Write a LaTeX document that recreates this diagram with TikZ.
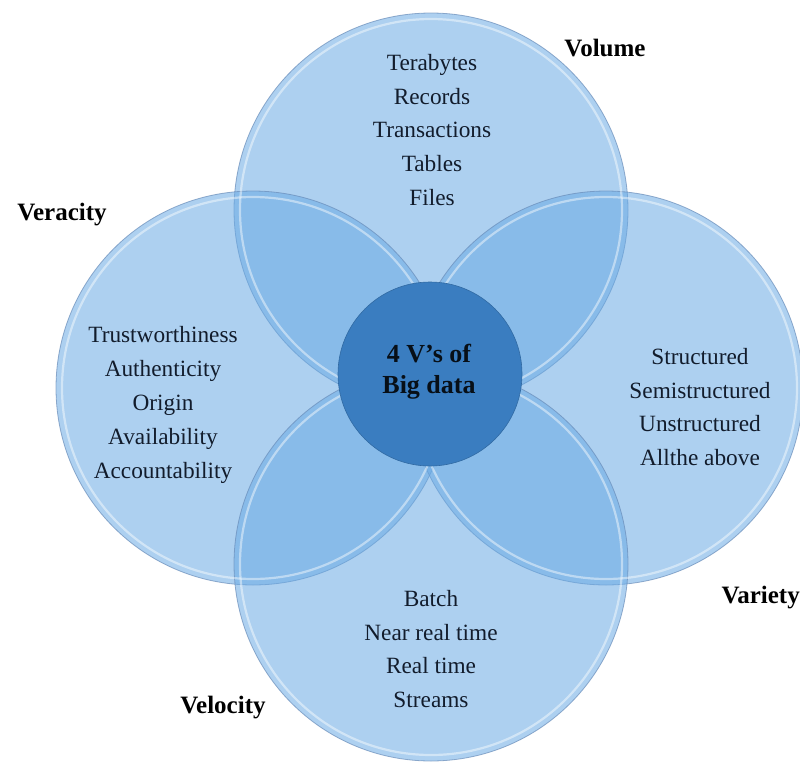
\documentclass[tikz,border=0pt]{standalone}
\usepackage{fontspec}
\setmainfont{Liberation Serif}
\definecolor{cfill}{RGB}{106,170,228}
\definecolor{cedge}{RGB}{105,140,185}
\definecolor{ccenter}{RGB}{58,125,192}
\definecolor{ctext}{RGB}{18,28,44}
\tikzset{
  vcircle/.style={circle, minimum size=394pt, inner sep=0pt, fill=cfill, fill opacity=0.55, draw=cedge, draw opacity=0.7, line width=0.8pt},
  vring/.style={circle, minimum size=382pt, inner sep=0pt, draw=white, draw opacity=0.45, line width=2.2pt},
  items/.style={align=center, text=ctext, font=\fontsize{23.3}{33.8}\selectfont},
  vlabel/.style={text=black, font=\fontsize{25}{28}\selectfont\bfseries},
  hub/.style={circle, minimum size=184pt, inner sep=0pt, fill=ccenter, draw=ccenter!85!black, line width=0.6pt},
}
\begin{document}
\begin{tikzpicture}[x=1pt,y=-1pt]
\useasboundingbox (0,0) rectangle (800,763);
\fill[white] (0,0) rectangle (800,763);
% four circles
\node[vcircle] (ctop) at (431,210) {};
\node[vcircle] (cleft) at (253,388) {};
\node[vcircle] (cright) at (606,388) {};
\node[vcircle] (cbot) at (431,564) {};
% inner highlight rings
\node[vring] (rtop) at (431,210) {};
\node[vring] (rleft) at (253,388) {};
\node[vring] (rright) at (606,388) {};
\node[vring] (rbot) at (431,564) {};
% center hub
\node[hub] (hub) at (430,374) {};
\node[items, font=\fontsize{26}{31}\selectfont\bfseries, text=black!88!ccenter] (hubtext) at (429,372) {4 V’s of\\Big data};
% item lists
\node[items] (volitems) at (432,130) {Terabytes\\Records\\Transactions\\Tables\\Files};
\node[items] (veritems) at (163,405) {Trustworthiness\\Authenticity\\Origin\\Availability\\Accountability};
\node[items] (varitems) at (700,407) {Structured\\Semistructured\\Unstructured\\Allthe above};
\node[items] (velitems) at (431,649) {Batch\\Near real time\\Real time\\Streams};
% labels
\node[vlabel] (lvol) at (605,48) {Volume};
\node[vlabel] (lver) at (62,215) {Veracity};
\node[vlabel, anchor=west] (lvar) at (718,598) {Variety};
\node[vlabel] (lvel) at (223,708) {Velocity};
\end{tikzpicture}
\end{document}
